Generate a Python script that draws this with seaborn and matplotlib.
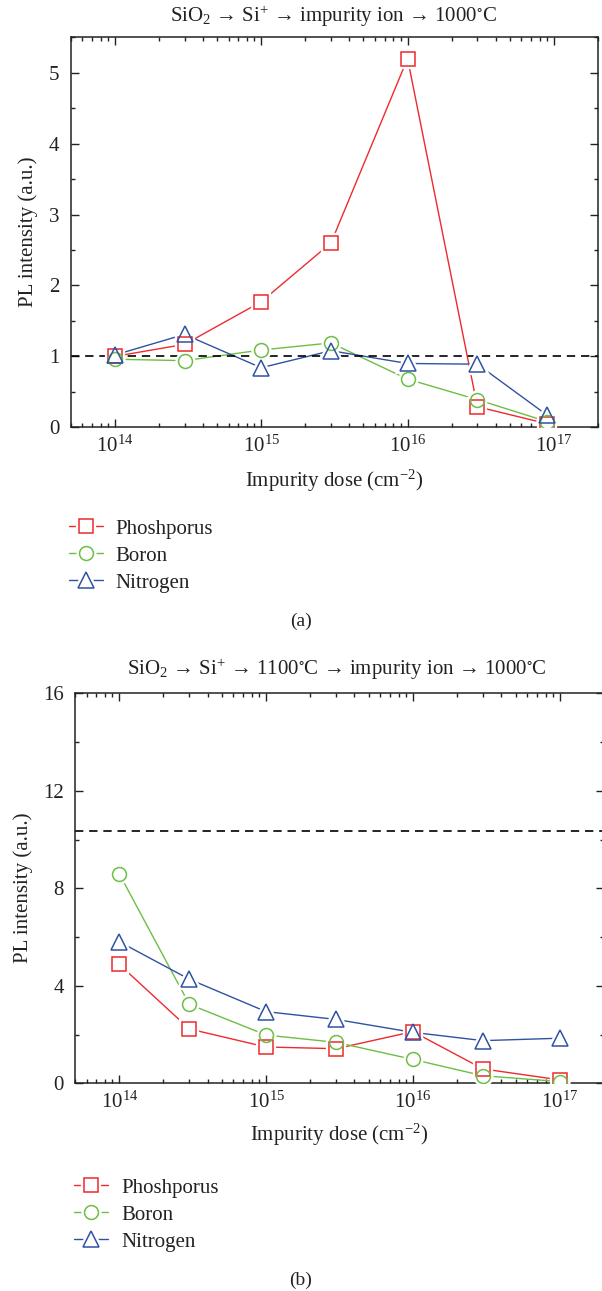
import numpy as np
import pandas as pd
import seaborn as sns
import matplotlib
matplotlib.use("Agg")
import matplotlib.pyplot as plt
from matplotlib.lines import Line2D
from matplotlib.legend_handler import HandlerTuple
from matplotlib.ticker import LogLocator, NullFormatter, MultipleLocator

# ---------------- data ----------------
series_names = ["Phoshporus", "Boron", "Nitrogen"]

dose_a = [1e14, 3e14, 1e15, 3e15, 1e16, 3e16, 9e16]
phos_a = [1.00, 1.17, 1.77, 2.60, 5.20, 0.29, 0.05]
boron_a = [0.96, 0.94, 1.09, 1.19, 0.68, 0.39, 0.08]
nitro_a = [1.02, 1.31, 0.84, 1.08, 0.90, 0.89, 0.17]
ref_a = 1.0

dose_b = [1e14, 3e14, 1e15, 3e15, 1e16, 3e16, 1e17]
phos_b = [4.88, 2.23, 1.49, 1.42, 2.12, 0.59, 0.14]
boron_b = [8.60, 3.24, 1.98, 1.68, 0.98, 0.31, 0.07]
nitro_b = [5.81, 4.27, 2.94, 2.62, 2.09, 1.75, 1.85]
ref_b = 10.35

title_a = r"SiO$_2$ → Si$^{+}$ → impurity ion → 1000$^{\circ}$C"
title_b = r"SiO$_2$ → Si$^{+}$ → 1100$^{\circ}$C → impurity ion → 1000$^{\circ}$C"
xlabel = r"Impurity dose (cm$^{-2}$)"
ylabel = "PL intensity (a.u.)"

# ---------------- style ----------------
sns.set_theme(style="ticks")
plt.rcParams["font.family"] = ["Liberation Serif", "DejaVu Serif"]
plt.rcParams["mathtext.fontset"] = "custom"
plt.rcParams["mathtext.rm"] = "Liberation Serif"
plt.rcParams["mathtext.it"] = "Liberation Serif:italic"
plt.rcParams["mathtext.default"] = "regular"
plt.rcParams["axes.unicode_minus"] = True

colors = ["#EE2A2E", "#6DBE45", "#2F52A3"]
markers = ["s", "o", "^"]
msizes = [9.5, 10, 11]
FS = 15
TXT = "#222222"

W, H = 602, 1291
fig = plt.figure(figsize=(W / 100, H / 100), dpi=100)


def px_axes(l, t, r, b):
    return fig.add_axes([l / W, 1 - b / H, (r - l) / W, (b - t) / H])


ax_a = px_axes(70.7, 37.3, 598, 427.3)
ax_b = px_axes(75, 693.3, 604, 1083.3)


def draw(ax, dose, ys, ref, ymax, major, minor):
    ax.axhline(ref, color="black", lw=1.2, ls=(0, (5, 3.5)), zorder=2.5)
    for name, y, col, mk, ms in zip(series_names, ys, colors, markers, msizes):
        df = pd.DataFrame({"dose": dose, "value": y})
        sns.lineplot(data=df, x="dose", y="value", ax=ax, color=col, lw=1.0,
                     estimator=None, sort=False, zorder=2, legend=False)
        ax.plot(df["dose"], df["value"], ls="none", marker=mk, ms=ms,
                mfc="white", mec="white", mew=4.5, zorder=3)
        ax.plot(df["dose"], df["value"], ls="none", marker=mk, ms=ms,
                mfc="none", mec=col, mew=1.1, zorder=4)
    ax.set_xscale("log")
    ax.set_xlim(5e13, 2e17)
    ax.set_ylim(0, ymax)
    ax.xaxis.set_major_locator(LogLocator(base=10, numticks=10))
    ax.xaxis.set_minor_locator(LogLocator(base=10, subs=np.arange(2, 10), numticks=20))
    ax.xaxis.set_minor_formatter(NullFormatter())
    ax.yaxis.set_major_locator(MultipleLocator(major))
    ax.yaxis.set_minor_locator(MultipleLocator(minor))
    ax.tick_params(which="both", direction="in", top=True, right=True,
                   colors=TXT, labelsize=FS, labelcolor=TXT)
    ax.tick_params(which="major", length=6, width=1.0)
    ax.tick_params(which="minor", length=3.2, width=1.0)
    ax.tick_params(axis="y", pad=8)
    ax.tick_params(axis="x", pad=6)
    for s in ax.spines.values():
        s.set_linewidth(1.1)
        s.set_color(TXT)
    ax.set_xlabel("")
    ax.set_ylabel("")


draw(ax_a, dose_a, [phos_a, boron_a, nitro_a], ref_a, 5.5, 1, 0.5)
draw(ax_b, dose_b, [phos_b, boron_b, nitro_b], ref_b, 16, 4, 2)

# titles and labels
fig.text(333 / W, 1 - 16 / H, title_a, ha="center", va="center", fontsize=FS, color=TXT)
fig.text(337 / W, 1 - 669 / H, title_b, ha="center", va="center", fontsize=FS, color=TXT)

ax_a.set_xlabel(xlabel, fontsize=FS, color=TXT)
ax_a.xaxis.set_label_coords(0.5, -0.105)
ax_b.set_xlabel(xlabel, fontsize=FS, color=TXT)
ax_b.xaxis.set_label_coords(0.5, -0.10)

fig.text(28 / W, 1 - 232 / H, ylabel, rotation=90, ha="center", va="center",
         fontsize=FS, color=TXT)
fig.text(23 / W, 1 - 888 / H, ylabel, rotation=90, ha="center", va="center",
         fontsize=FS, color=TXT)

fig.text(301 / W, 1 - 621 / H, "(a)", ha="center", va="center", fontsize=FS - 1, color=TXT)
fig.text(301 / W, 1 - 1280 / H, "(b)", ha="center", va="center", fontsize=FS - 1, color=TXT)


# legends
def make_handles():
    hs = []
    for col, mk, ms in zip(colors, markers, msizes):
        ln = Line2D([], [], color=col, lw=1.0)
        mask = Line2D([], [], ls="none", marker=mk, ms=ms, mfc="white", mec="white", mew=4.5)
        mrk = Line2D([], [], ls="none", marker=mk, ms=ms, mfc="none", mec=col, mew=1.1)
        hs.append((ln, mask, mrk))
    return hs


for anchor in [(69, 519), (74, 1178)]:
    fig.legend(make_handles(), series_names, loc="upper left",
               bbox_to_anchor=(anchor[0] / W, 1 - anchor[1] / H),
               handler_map={tuple: HandlerTuple(ndivide=1)},
               frameon=False, fontsize=FS, handlelength=1.65, handletextpad=0.6,
               labelspacing=0.36, borderpad=0, borderaxespad=0, labelcolor=TXT)

fig.savefig("out.png", dpi=100)
